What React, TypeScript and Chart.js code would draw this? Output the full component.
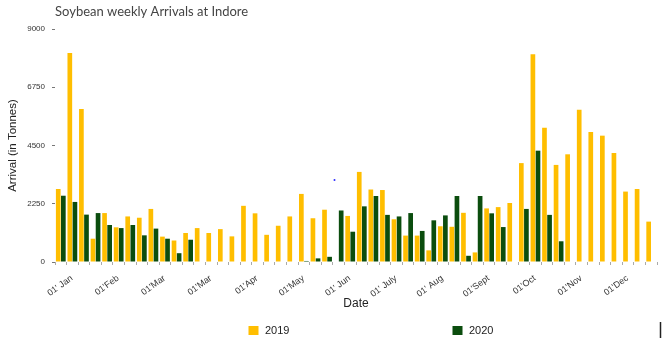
import React, { useEffect, useRef } from "react";
import { Chart, registerables } from "chart.js";

Chart.register(...registerables);

const chartTitle = "Soybean weekly Arrivals at Indore";
const monthTickLabels = [
  "01' Jan", "01'Feb", "01'Mar", "01'Mar", "01'Apr", "01'May", "01' Jun",
  "01' July", "01' Aug", "01'Sept", "01'Oct", "01'Nov", "01'Dec",
];
const weeksPerTick = 4;
const weekCount = 52;
const yTickValues = [0, 2250, 4500, 6750, 9000];

const arrivals2019 = [
  2820, 8070, 5910, 900, 1890, 1340, 1760, 1710, 2050, 980, 830, 1120, 1310,
  1120, 1270, 990, 2170, 1880, 1050, 1400, 1760, 2630, 1690, 2020, null, 1780,
  3480, 2800, 2780, 1650, 1020, 1020, 450, 1380, 1360, 1900, 370, 2070, 2120,
  2280, 3820, 8020, 5190, 3750, 4160, 5880, 5020, 4880, 4210, 2720, 2820, 1560,
];
const arrivals2020 = [
  2560, 2320, 1830, 1890, 1430, 1310, 1430, 1030, 1290, 900, 340, 860, null,
  null, null, null, null, null, null, null, null, 40, 140, 200, 1990, 1170,
  2150, 2550, 1820, 1760, 1890, 1200, 1610, 1800, 2550, 240, 2550, 1880, 1350,
  null, 2050, 4300, 1820, 800, null, null, null, null, null, null, null, null,
];

const weekLabels = Array.from({ length: weekCount }, (_, i) =>
  i % weeksPerTick === 0 ? monthTickLabels[i / weeksPerTick] : ""
);

const COLOR_2019 = "#FFBE00";
const COLOR_2020 = "#0B4D0E";

const decorPlugin = {
  id: "decor",
  afterDraw(chart: any) {
    const ctx = chart.ctx;
    ctx.save();
    // title
    ctx.fillStyle = "#444";
    ctx.font = "13px Lato, 'Open Sans', sans-serif";
    ctx.textAlign = "left";
    ctx.textBaseline = "middle";
    ctx.fillText(chartTitle, 55, 12);
    // legend
    const items = [
      { x: 248.5, tx: 265 },
      { x: 452.5, tx: 469 },
    ];
    chart.data.datasets.forEach((ds: any, i: number) => {
      const it = items[i];
      ctx.fillStyle = ds.backgroundColor;
      ctx.fillRect(it.x, 326, 10, 9);
      ctx.fillStyle = "#222";
      ctx.font = "11px 'Liberation Sans', Arial, sans-serif";
      ctx.textBaseline = "middle";
      ctx.fillText(ds.label, it.tx, 331);
    });
    // stray marks in the source image
    ctx.fillStyle = "#2b2bff";
    ctx.beginPath();
    ctx.arc(334.5, 180, 1, 0, Math.PI * 2);
    ctx.fill();
    ctx.strokeStyle = "#222";
    ctx.lineWidth = 1.5;
    ctx.beginPath();
    ctx.moveTo(660.5, 322);
    ctx.lineTo(660.5, 338);
    ctx.stroke();
    ctx.restore();
  },
};

export default function App() {
  const ref = useRef<HTMLCanvasElement>(null);
  useEffect(() => {
    document.body.style.margin = "0";
    Chart.defaults.font.family = "'Liberation Sans', Arial, sans-serif";
    const chart = new Chart(ref.current!, {
      type: "bar",
      data: {
        labels: weekLabels,
        datasets: [
          { label: "2019", data: arrivals2019, backgroundColor: COLOR_2019 },
          { label: "2020", data: arrivals2020, backgroundColor: COLOR_2020 },
        ],
      },
      options: {
        animation: false,
        responsive: true,
        maintainAspectRatio: false,
        datasets: { bar: { categoryPercentage: 0.88, barPercentage: 0.92 } },
        layout: { padding: { top: 29, right: 5, left: 0, bottom: 26 } },
        plugins: { legend: { display: false }, tooltip: { enabled: false }, title: { display: false } },
        scales: {
          x: {
            grid: { display: true, drawOnChartArea: false, drawTicks: true, tickLength: 3, color: "#aaa", offset: true },
            border: { display: false },
            ticks: {
              autoSkip: false, maxRotation: 36, minRotation: 36, labelOffset: 11, padding: 8,
              color: "#333", font: { size: 9 },
            },
            title: { display: true, text: "Date", color: "#222", font: { size: 12 }, padding: { top: 0, bottom: 1 } },
            afterFit: (s: any) => { s.height = 50; s.paddingLeft = 0; s.paddingRight = 0; },
          },
          y: {
            min: 0, max: 9000,
            afterBuildTicks: (s: any) => { s.ticks = yTickValues.map((v) => ({ value: v })); },
            grid: { display: true, drawOnChartArea: false, drawTicks: true, tickLength: 3, color: "#777" },
            border: { display: false },
            ticks: { color: "#333", font: { size: 8 }, padding: 7, callback: (v: any) => String(v) },
            title: { display: true, text: "Arrival (in Tonnes)", color: "#222", font: { size: 11.5 }, padding: { top: 6, bottom: 0 } },
            afterFit: (s: any) => { s.width = 55; s.paddingTop = 0; s.paddingBottom = 0; },
          },
        },
      },
      plugins: [decorPlugin],
    });
    return () => chart.destroy();
  }, []);
  return (
    <div style={{ position: "absolute", left: 0, top: 0, width: 662, height: 338 }}>
      <canvas ref={ref} />
    </div>
  );
}
